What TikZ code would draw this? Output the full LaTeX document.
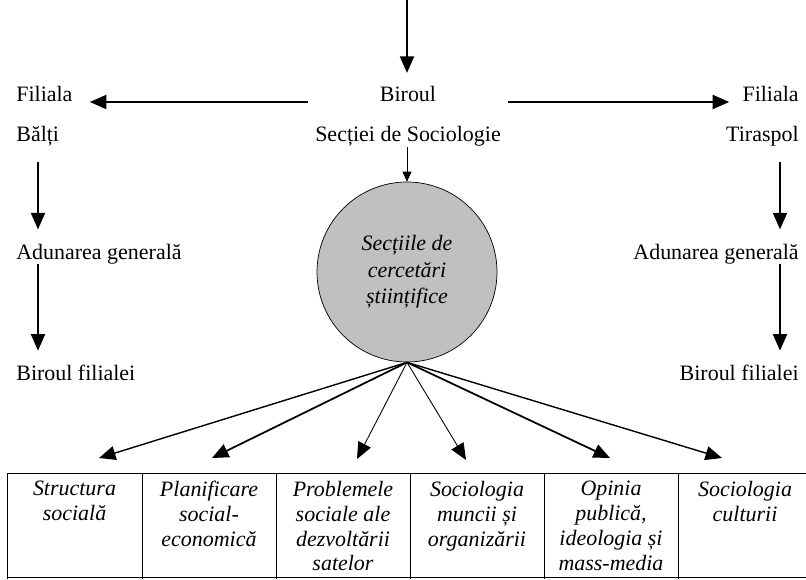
\documentclass[tikz,border=0pt]{standalone}
\usepackage{fontspec}
\setmainfont{Liberation Serif}
\usetikzlibrary{arrows.meta}
\definecolor{cercgri}{RGB}{192,192,192}
\tikzset{
	txt/.style={inner sep=0pt, anchor=base, font=\fontsize{12.5}{14}\selectfont},
	cel/.style={inner xsep=0pt, inner ysep=0.15cm, anchor=north, align=center, font=\itshape\fontsize{12.5}{14.2}\selectfont},
	sag/.style={line width=1.1pt, -{Triangle[length=0.33cm,width=0.28cm]}},
}

\begin{document}
\begin{tikzpicture}
	\useasboundingbox (0,0) rectangle (16.12,-11.58);

	\node[txt, minimum width=4cm] (birou) at (8.16,-2.04) {Biroul};
	\node[txt] (sectia) at (8.16,-2.84) {Secției de Sociologie};
	\node[txt, anchor=base west] (filb) at (0.32,-2.04) {Filiala};
	\node[txt, anchor=base west] (balti) at (0.32,-2.84) {Bălți};
	\node[txt, anchor=base east] (filt) at (15.98,-2.04) {Filiala};
	\node[txt, anchor=base east] (tiras) at (15.98,-2.84) {Tiraspol};
	\node[txt, anchor=base west] (adunb) at (0.32,-5.18) {Adunarea generală};
	\node[txt, anchor=base east] (adunt) at (15.98,-5.18) {Adunarea generală};
	\node[txt, anchor=base west] (birb) at (0.32,-7.6) {Biroul filialei};
	\node[txt, anchor=base east] (birt) at (15.98,-7.6) {Biroul filialei};

	\node[circle, draw, fill=cercgri, minimum size=3.6cm, inner sep=0pt, align=center,
		font=\itshape\fontsize{12.5}{15}\selectfont] (cerc) at (8.14,-5.44)
		{Secțiile de\\cercetări\\științifice};

	\coordinate (sus) at (8.14,0);
	\coordinate (xl) at (0.76,0);
	\coordinate (xr) at (15.6,0);

	\draw[sag, shorten >=0.27cm] (sus) -- (sus |- birou.north);
	\draw[sag] (birou.base west) -- ([xshift=0.34cm]filb.base east);
	\draw[sag] (birou.base east) -- ([xshift=-0.26cm]filt.base west);
	\draw[line width=0.5pt, -{Triangle[length=0.2cm,width=0.18cm]}] (sectia.south -| cerc.north) -- (cerc.north);

	\draw[sag, shorten <=0.3cm, shorten >=0.28cm] (xl |- balti.south) -- (xl |- adunb.north);
	\draw[sag, shorten >=0.27cm] (xl |- adunb.south) -- (xl |- birb.north);
	\draw[sag, shorten <=0.3cm, shorten >=0.28cm] (xr |- tiras.south) -- (xr |- adunt.north);
	\draw[sag, shorten >=0.27cm] (xr |- adunt.south) -- (xr |- birt.north);

	% tabelul
	\draw (0.14,-9.46) -- (16.12,-9.46);
	\draw (0.14,-11.54) -- (16.12,-11.54);
	\foreach \x in {0.14,2.84,5.52,8.2,10.88,13.56}
		\draw (\x,-9.46) -- (\x,-11.58);

	\node[cel] (c1) at (1.49,-9.46) {Structura\\socială};
	\node[cel] (c2) at (4.18,-9.46) {Planificare\\social-\\economică};
	\node[cel] (c3) at (6.86,-9.46) {Problemele\\sociale ale\\dezvoltării\\satelor};
	\node[cel] (c4) at (9.54,-9.46) {Sociologia\\muncii și\\organizării};
	\node[cel] (c5) at (12.22,-9.46) {Opinia\\publică,\\ideologia și\\mass-media};
	\node[cel] (c6) at (14.9,-9.46) {Sociologia\\culturii};

	\draw[sag, line width=0.8pt] (cerc.south) -- (1.98,-9.16);
	\draw[sag, line width=1pt] (cerc.south) -- (4.24,-9.16);
	\draw[sag, line width=0.5pt] (cerc.south) -- (7.14,-9.18);
	\draw[sag, line width=0.5pt] (cerc.south) -- (9.32,-9.2);
	\draw[sag, line width=1pt] (cerc.south) -- (12.2,-9.16);
	\draw[sag, line width=0.8pt] (cerc.south) -- (14.44,-9.16);
\end{tikzpicture}
\end{document}
